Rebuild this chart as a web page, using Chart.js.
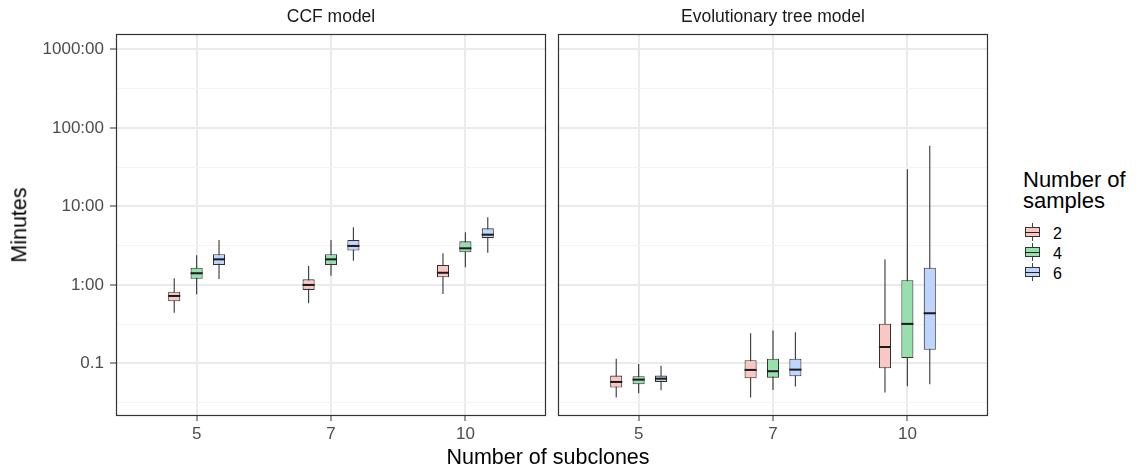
<!DOCTYPE html>
<html><head><meta charset="utf-8">
<script src="https://cdn.jsdelivr.net/npm/chart.js@4.4.1/dist/chart.umd.min.js"></script>
<style>
html,body{margin:0;padding:0;background:#fff;}
body{width:1142px;height:471px;overflow:hidden;position:relative;font-family:"Liberation Sans",Arial,Helvetica,sans-serif;}
canvas{position:absolute;top:0;}
.t{position:absolute;white-space:nowrap;line-height:1;}
.key{position:absolute;left:1025px;width:15px;height:18px;}
.key .wh{position:absolute;left:7px;top:0;width:1px;height:18px;background:#444;}
.key .bx{position:absolute;left:0;top:4px;width:13px;height:8px;border:1px solid #333;}
.key .md{position:absolute;left:0;top:4px;width:15px;height:1.5px;background:#222;}
</style></head><body>
<canvas id="c1" width="547" height="471" style="left:0px"></canvas>
<canvas id="c2" width="440" height="471" style="left:550px"></canvas>

<div class="t" style="left:331px;top:8px;font-size:17.5px;color:#1a1a1a;transform:translateX(-50%)">CCF model</div>
<div class="t" style="left:773px;top:8px;font-size:17.5px;color:#1a1a1a;transform:translateX(-50%)">Evolutionary tree model</div>
<div class="t" style="left:548px;top:447px;font-size:21.5px;color:#000;transform:translateX(-50%)">Number of subclones</div>
<div class="t" style="left:20px;top:225px;font-size:21.5px;color:#000;transform:translate(-50%,-50%) rotate(-90deg)">Minutes</div>
<div class="t" style="left:1023px;top:168.5px;font-size:22px;color:#000">Number of</div>
<div class="t" style="left:1023px;top:190px;font-size:22px;color:#000">samples</div>
<div id="legend"></div>

<script>
// ---- data ----
const subclones = ['5', '7', '10'];
const sampleGroups = ['2', '4', '6'];
const yMajorTicks = [0.1, 1, 10, 100, 1000];
const yTickLabels = ['0.1', '1:00', '10:00', '100:00', '1000:00'];

// each row: [lower whisker, Q1, median, Q3, upper whisker] (minutes), for subclones 5, 7, 10
const ccfSamples2 = [[0.444, 0.620, 0.724, 0.822, 1.22], [0.585, 0.864, 1.00, 1.18, 1.75], [0.768, 1.25, 1.43, 1.80, 2.53]];
const ccfSamples4 = [[0.761, 1.20, 1.41, 1.66, 2.39], [1.31, 1.80, 2.12, 2.46, 3.74], [1.68, 2.61, 2.93, 3.60, 4.69]];
const ccfSamples6 = [[1.19, 1.80, 2.12, 2.46, 3.74], [2.04, 2.74, 3.14, 3.74, 5.43], [2.58, 3.94, 4.37, 5.27, 7.28]];

const treeSamples2 = [[0.0367, 0.0492, 0.0581, 0.0700, 0.115], [0.0367, 0.0648, 0.0827, 0.110, 0.2425], [0.0425, 0.0869, 0.162, 0.321, 2.12]];
const treeSamples4 = [[0.0417, 0.0543, 0.0622, 0.0687, 0.0986], [0.0460, 0.0659, 0.0796, 0.115, 0.262], [0.0512, 0.117, 0.319, 1.15, 29.8]];
const treeSamples6 = [[0.0456, 0.0581, 0.0640, 0.0700, 0.0938], [0.0507, 0.0687, 0.0834, 0.115, 0.250], [0.0543, 0.149, 0.436, 1.66, 59.5]];

// ---- styles ----
const fills = ['rgb(251,199,195)', 'rgb(150,224,172)', 'rgb(190,213,255)'];
const FONT = '"Liberation Sans", Arial, Helvetica, sans-serif';
const Y_MIN = 0.0214, Y_MAX = 1575;
const yMinorTicks = [yMajorTicks[0] / Math.sqrt(10)].concat(yMajorTicks.slice(0, -1).map(v => v * Math.sqrt(10)));
const yAllTicks = yMajorTicks.concat(yMinorTicks).sort((a, b) => a - b);
const isMajor = v => yMajorTicks.some(m => Math.abs(Math.log10(m) - Math.log10(v)) < 1e-6);

const panelPlugin = {
  id: 'panel',
  afterDatasetsDraw(chart) {
    const ctx = chart.ctx, ys = chart.scales.y;
    ctx.save();
    // medians
    ctx.strokeStyle = '#1a1a1a';
    ctx.lineWidth = 2;
    chart.data.datasets.forEach((ds, di) => {
      if (!ds.medians) return;
      const meta = chart.getDatasetMeta(di);
      meta.data.forEach((bar, i) => {
        const y = ys.getPixelForValue(ds.medians[i]);
        ctx.beginPath();
        ctx.moveTo(bar.x - bar.width / 2, y);
        ctx.lineTo(bar.x + bar.width / 2, y);
        ctx.stroke();
      });
    });
    // panel border
    const a = chart.chartArea;
    ctx.strokeStyle = '#333';
    ctx.lineWidth = 1.2;
    ctx.strokeRect(a.left + 0.5, a.top + 0.5, a.right - a.left - 1, a.bottom - a.top - 1);
    ctx.restore();
  }
};

function makeChart(id, groups, showY) {
  const datasets = [];
  groups.forEach((rows, g) => {
    datasets.push({
      label: sampleGroups[g], stack: 's' + g,
      data: rows.map((r, i) => ({x: i + 1, y: [r[1], r[3]]})),
      medians: rows.map(r => r[2]),
      backgroundColor: fills[g], borderColor: '#333', borderWidth: 1.1, borderSkipped: false,
      barPercentage: 0.54, categoryPercentage: 0.5
    });
  });
  groups.forEach((rows, g) => {
    datasets.push({
      label: sampleGroups[g] + ' whisker', stack: 's' + g,
      data: rows.map((r, i) => ({x: i + 1, y: [r[0], r[4]]})),
      backgroundColor: '#3a3a3a', borderWidth: 0,
      barPercentage: 0.05, categoryPercentage: 0.5
    });
  });
  return new Chart(document.getElementById(id), {
    type: 'bar',
    data: {datasets},
    plugins: [panelPlugin],
    options: {
      responsive: false, animation: false, events: [],
      layout: {padding: {top: 34, right: showY ? 1 : 2, left: 0, bottom: 0}},
      plugins: {legend: {display: false}, tooltip: {enabled: false}},
      scales: {
        x: {
          type: 'linear', min: 0.4, max: 3.6, offset: false,
          afterBuildTicks: s => { s.ticks = subclones.map((c, i) => ({value: i + 1})); },
          afterFit: s => { s.height = 55; },
          ticks: {callback: v => subclones[Math.round(v) - 1], color: '#4d4d4d', font: {family: FONT, size: 17}, padding: 3, maxRotation: 0, autoSkip: false},
          grid: {offset: false, color: '#ebebeb', lineWidth: 2, tickColor: '#333', tickLength: 5, tickWidth: 1},
          border: {display: false}
        },
        y: {
          type: 'logarithmic', min: Y_MIN, max: Y_MAX, stacked: false, beginAtZero: false, bounds: 'data',
          afterBuildTicks: s => { s.ticks = yAllTicks.map(v => ({value: v})); },
          afterFit: s => { s.width = showY ? 116 : 8; },
          ticks: {
            display: showY, autoSkip: false, color: '#4d4d4d', font: {family: FONT, size: 17}, padding: 6,
            callback: v => { const k = yMajorTicks.findIndex(m => Math.abs(Math.log10(m) - Math.log10(v)) < 1e-6); return k >= 0 ? yTickLabels[k] : ''; }
          },
          grid: {
            drawTicks: showY, tickLength: 6, tickWidth: 1,
            color: c => (c.tick && isMajor(c.tick.value)) ? '#ebebeb' : '#f3f3f3',
            lineWidth: c => (c.tick && isMajor(c.tick.value)) ? 2 : 1,
            tickColor: c => (c.tick && isMajor(c.tick.value)) ? '#333' : 'rgba(0,0,0,0)'
          },
          border: {display: false}
        }
      }
    }
  });
}

makeChart('c1', [ccfSamples2, ccfSamples4, ccfSamples6], true);
makeChart('c2', [treeSamples2, treeSamples4, treeSamples6], false);

// legend keys
const leg = document.getElementById('legend');
sampleGroups.forEach((g, i) => {
  const cy = 232 + i * 20;
  const k = document.createElement('div');
  k.className = 'key';
  k.style.top = (cy - 9) + 'px';
  k.innerHTML = '<div class="wh"></div><div class="bx" style="background:' + fills[i] + '"></div><div class="md" style="top:' + 8.5 + 'px"></div>';
  leg.appendChild(k);
  const t = document.createElement('div');
  t.className = 't';
  t.style.cssText = 'left:1053px;top:' + (cy - 6.5) + 'px;font-size:16px;color:#000';
  t.textContent = g;
  leg.appendChild(t);
});
</script>
</body></html>
